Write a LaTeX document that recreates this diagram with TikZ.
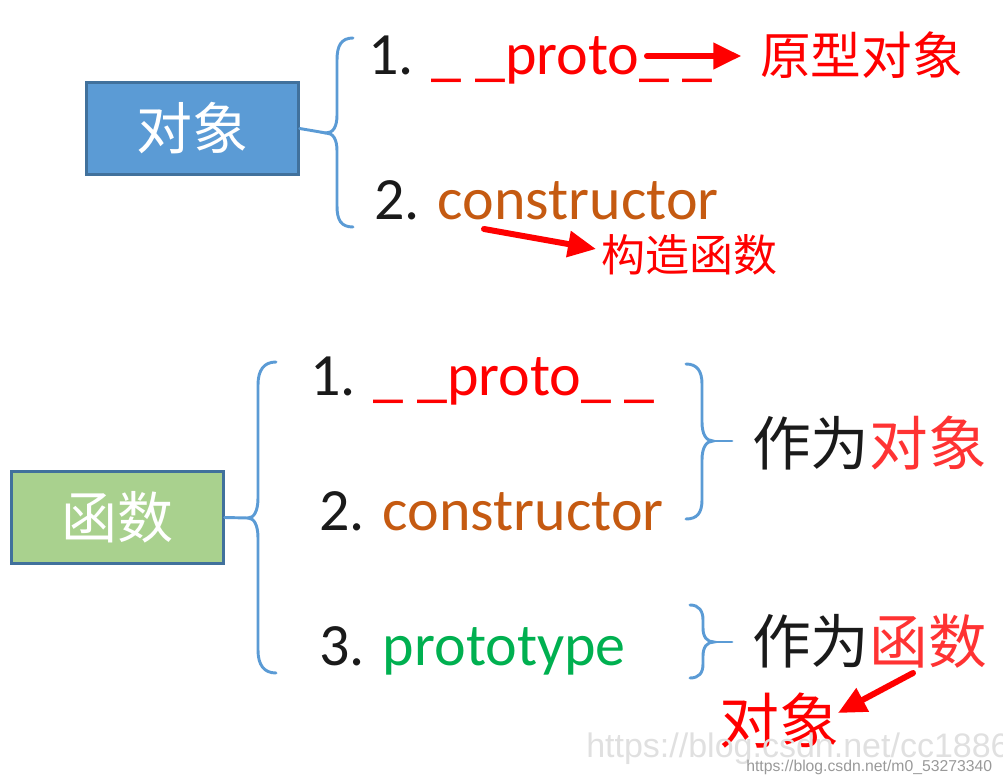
\documentclass[tikz,border=0pt]{standalone}
\usepackage{fontspec}
\setmainfont{Carlito}
\newfontfamily\cjk{Noto Sans CJK SC}
\newfontfamily\wmfont{Liberation Sans}
\usetikzlibrary{arrows.meta}
\definecolor{boxblue}{HTML}{5B9BD5}
\definecolor{boxedge}{HTML}{41719C}
\definecolor{boxgreen}{HTML}{A9D18E}
\definecolor{braceblue}{HTML}{5B9BD5}
\definecolor{ctorbrown}{HTML}{C55A11}
\definecolor{protogreen}{HTML}{00B050}
\definecolor{txtblack}{HTML}{1A1A1A}
\definecolor{lightred}{HTML}{FF3333}
\tikzset{
  lbl/.style={inner sep=0pt, anchor=base west, text=txtblack, font=\fontsize{45}{54}\selectfont},
  cjklbl/.style={inner sep=0pt, anchor=west, font=\cjk\fontsize{#1}{#1}\selectfont},
  boxnode/.style={draw=boxedge, line width=1.8pt, minimum width=159pt, minimum height=69pt, inner sep=0pt, text=white, font=\cjk\fontsize{42}{42}\selectfont},
  bracepath/.style={draw=braceblue, line width=2.2pt, line cap=round},
  redarrow/.style={draw=red, line width=4.5pt, line cap=round, -{Triangle[length=21pt,width=19pt]}},
}
\begin{document}
\begin{tikzpicture}[x=0.75pt,y=-0.75pt]
\useasboundingbox (0,0) rectangle (1003,784);
\clip (0,0) rectangle (1003,784);
% ---------- top: object ----------
\node[boxnode, fill=boxblue] (obj) at (192.5,128.5) {对象};
\coordinate (tipA) at (326,133);
\draw[bracepath] (353,38) .. controls (341,38) and (337,46) .. (337,60) -- (337,115)
  .. controls (337,127) and (333,133) .. (tipA)
  .. controls (333,133) and (337,139) .. (337,151) -- (337,206)
  .. controls (337,220) and (341,227) .. (353,227);
\draw[bracepath] (obj.east) -- (tipA);
\node[lbl] (t1) at (368,75) {1. \textcolor{red}{\_ \_proto\_ \_}};
\node[lbl] (t2) at (374,220) {2. \textcolor{ctorbrown}{constructor}};
\node[cjklbl=38pt, text=red] (o1) at (760,55) {原型对象};
\coordinate (a1) at (647,56);
\draw[redarrow, shorten >=14pt] (a1) -- (o1.west |- a1);
\node[cjklbl=33pt, text=red] (k1) at (601,255) {构造函数};
\coordinate (a2) at (484,229);
\coordinate (a2e) at (596,249);
\draw[redarrow] (a2) -- (a2e);
% ---------- bottom: function ----------
\node[boxnode, fill=boxgreen] (fun) at (117.5,517.5) {函数};
\coordinate (tipB) at (248,518);
\draw[bracepath] (276,362) .. controls (264,362) and (258,370) .. (258,385) -- (258,498)
  .. controls (258,511) and (254,518) .. (tipB)
  .. controls (254,518) and (258,525) .. (258,538) -- (258,650)
  .. controls (258,665) and (264,673) .. (276,673);
\draw[bracepath] (fun.east) -- (tipB);
\node[lbl] (b1) at (310,395) {1. \textcolor{red}{\_ \_proto\_ \_}};
\node[lbl] (b2) at (319,530) {2. \textcolor{ctorbrown}{constructor}};
\node[lbl] (b3) at (319,665) {3. \textcolor{protogreen}{prototype}};
% right braces
\coordinate (tipC) at (713,441);
\draw[bracepath] (686,364) .. controls (697,364) and (702,371) .. (702,384) -- (702,422)
  .. controls (702,434) and (706,441) .. (tipC)
  .. controls (706,441) and (702,448) .. (702,460) -- (702,500)
  .. controls (702,513) and (697,519) .. (686,519);
\node[cjklbl=44pt] (z1) at (752,443) {\textcolor{txtblack}{作为}\textcolor{lightred}{对象}};
\draw[bracepath, shorten >=15pt] (tipC) -- (z1.west |- tipC);
\coordinate (tipD) at (714,642);
\draw[bracepath] (690,605) .. controls (699,605) and (703,611) .. (703,620) -- (703,628)
  .. controls (703,637) and (707,642) .. (tipD)
  .. controls (707,642) and (703,647) .. (703,656) -- (703,664)
  .. controls (703,673) and (699,678) .. (690,678);
\node[cjklbl=44pt] (z2) at (752,641) {\textcolor{txtblack}{作为}\textcolor{lightred}{函数}};
\draw[bracepath, shorten >=15pt] (tipD) -- (z2.west |- tipD);
% arrow to 对象
\node[cjklbl=45pt, text=red] (d1) at (719,721) {对象};
\coordinate (a3) at (913,673);
\coordinate (a3e) at (838,713);
\draw[redarrow] (a3) -- (a3e);
% watermark
\node[inner sep=0pt, anchor=base west, text=black!12, font=\wmfont\fontsize{25.5}{26}\selectfont] (wm1) at (586,757) {https://blog.csdn.net/cc1886};
\node[inner sep=0pt, anchor=base west, text=black!40, font=\wmfont\fontsize{11.8}{12}\selectfont] (wm2) at (746,771) {https://blog.csdn.net/m0\_53273340};
\end{tikzpicture}
\end{document}
